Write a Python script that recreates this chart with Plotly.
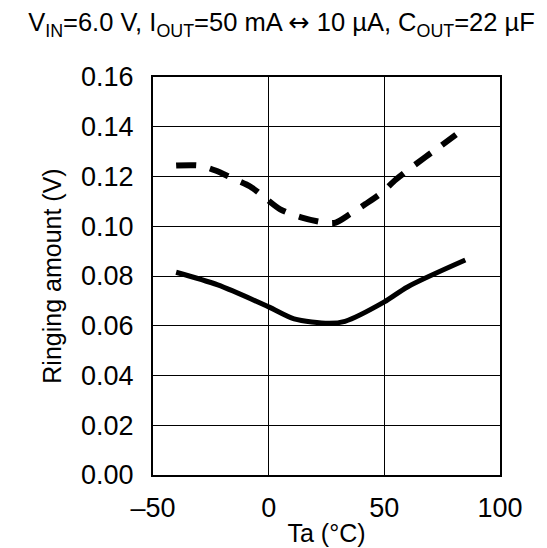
import plotly.graph_objects as go

# Ta (degC) vs ringing amount (V)
ta_solid = [-40, -22, 0, 11, 26, 33, 50, 60, 85]
v_solid = [0.0815, 0.0764, 0.0676, 0.0628, 0.0610, 0.0618, 0.0696, 0.0756, 0.0864]

ta_dash = [-40, -30, -23, -15, -8, -1, 5, 14, 24, 29, 35, 42, 49, 55, 68, 74, 81]
v_dash = [0.1244, 0.1244, 0.1224, 0.1190, 0.1160, 0.1110, 0.1068, 0.1036, 0.1015,
          0.1015, 0.1048, 0.1090, 0.1136, 0.1188, 0.1280, 0.1320, 0.1368]

x_ticks = [-50, 0, 50, 100]
x_ticktext = ['\u201350', '0', '50', '100']
y_ticks = [0.00, 0.02, 0.04, 0.06, 0.08, 0.10, 0.12, 0.14, 0.16]

font = 'Arial, Liberation Sans, sans-serif'

fig = go.Figure()
fig.add_trace(go.Scatter(x=ta_dash, y=v_dash, mode='lines',
                         line=dict(color='black', width=6, dash='20px,14px',
                                   shape='spline', smoothing=0.8)))
fig.add_trace(go.Scatter(x=ta_solid, y=v_solid, mode='lines',
                         line=dict(color='black', width=5,
                                   shape='spline', smoothing=0.8)))

title_text = ('V<sub>IN</sub>=6.0 V, I<sub>OUT</sub>=50 mA '
              '<span style="font-family:DejaVu Sans">\u2194</span> 10 \u00b5A, '
              'C<sub>OUT</sub>=22 \u00b5F')

fig.update_layout(
    width=547, height=548,
    margin=dict(l=145, r=55, t=69, b=81, autoexpand=False),
    paper_bgcolor='white', plot_bgcolor='white',
    showlegend=False,
    font=dict(family=font, size=27, color='black'),
    title=dict(text=title_text,
               x=0.5, xanchor='center', y=0.99, yanchor='top',
               font=dict(size=25.5), automargin=False),
)
fig.update_xaxes(range=[-50, 100], tickvals=x_ticks, ticktext=x_ticktext,
                 showgrid=True, gridcolor='black', gridwidth=1,
                 showline=True, linecolor='black', linewidth=2, mirror=True,
                 zeroline=False, ticks='', ticklabelstandoff=8, automargin=False,
                 title=dict(text='Ta (\u00b0C)', standoff=2, font=dict(size=25)))
fig.update_yaxes(range=[0, 0.16], tickvals=y_ticks, tickformat='.2f',
                 showgrid=True, gridcolor='black', gridwidth=1,
                 showline=True, linecolor='black', linewidth=2, mirror=True,
                 zeroline=False, ticks='', ticklabelstandoff=12, automargin=False,
                 title=dict(text='Ringing amount (V)', standoff=12, font=dict(size=25)))

fig.write_html("out.html")
